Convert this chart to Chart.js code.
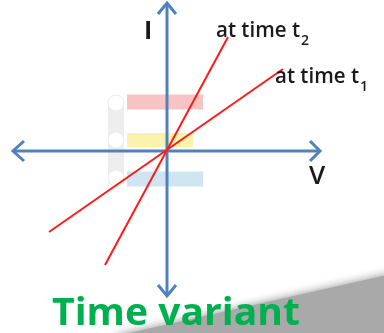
<!DOCTYPE html>
<html>
<head>
<meta charset="utf-8">
<script src="https://cdn.jsdelivr.net/npm/chart.js@4/dist/chart.umd.min.js"></script>
<style>
  html, body { margin: 0; padding: 0; background: #fff; }
  #myChart { display: block; }
</style>
</head>
<body>
<canvas id="myChart" width="384" height="333"></canvas>
<script>
// V-I characteristic, two lines through the origin
var lineT1 = [[-118, -81], [116, 82]];
var lineT2 = [[-62, -114], [61, 114]];
var seriesLabels = ['at time t', 'at time t'];
var subLabels = ['1', '2'];
var axisLabels = ['V', 'I'];
var title = 'Time variant';

// axes with arrow heads
var axisX = [[-154, 0], [153, 0]];
var axisY = [[0, 148], [0, -145]];
var arrowLeft = [[-143, 10], [-154, 0], [-143, -10]];
var arrowRight = [[143, 10], [153, 0], [143, -10]];
var arrowTop = [[-9, 137], [0, 148], [9, 137]];
var arrowBottom = [[-9, -134], [0, -145], [9, -134]];

// faded picture behind the axes
var barPink = [[-40, 49], [36, 49]];
var barYellow = [[-40, 11], [26, 11]];
var barBlue = [[-40, -28], [36, -28]];
var stem = [[-51, 46], [-51, -33]];
var knobs = [[-51, 48], [-51, 11], [-51, -27]];

function pts(arr) {
    return arr.map(function (p) { return { x: p[0], y: p[1] }; });
}

function ds(arr, color, width, order) {
    return {
        data: pts(arr),
        showLine: true,
        borderColor: color,
        borderWidth: width,
        pointRadius: 0,
        fill: false,
        tension: 0,
        borderCapStyle: 'butt',
        borderJoinStyle: 'miter',
        order: order
    };
}

var blue = '#4f81bd';

var textPlugin = {
    id: 'texts',
    beforeDraw: function (chart) {
        var c = chart.ctx;
        c.save();
        c.fillStyle = '#fff';
        c.fillRect(0, 0, chart.width, chart.height);
        c.restore();
    },
    afterDraw: function (chart) {
        var c = chart.ctx;
        var sx = chart.scales.x;
        c.save();
        // grey slide corner
        c.shadowColor = 'rgba(0,0,0,0.45)';
        c.shadowBlur = 10;
        c.fillStyle = '#a9a9a9';
        c.beginPath();
        c.moveTo(116, 336);
        c.lineTo(392, 274);
        c.lineTo(392, 345);
        c.lineTo(116, 345);
        c.closePath();
        c.fill();
        c.shadowBlur = 0;
        c.shadowColor = 'transparent';

        c.fillStyle = '#1a1a1a';
        c.textBaseline = 'alphabetic';
        c.font = '600 21px "Open Sans"';
        var x2 = sx.getPixelForValue(lineT2[1][0]) - 12;
        c.fillText(seriesLabels[1], x2, 37, 84);
        var w = Math.min(84, c.measureText(seriesLabels[1]).width);
        c.font = '600 14px "Open Sans"';
        c.fillText(subLabels[1], x2 + w + 1, 45);

        c.font = '600 21px "Open Sans"';
        var x1 = sx.getPixelForValue(lineT1[1][0]) - 8;
        c.fillText(seriesLabels[0], x1, 83, 84);
        w = Math.min(84, c.measureText(seriesLabels[0]).width);
        c.font = '600 14px "Open Sans"';
        c.fillText(subLabels[0], x1 + w + 1, 91);

        c.font = 'bold 25px "Open Sans"';
        c.fillText(axisLabels[1], 144, 39);
        c.font = '600 26px "Open Sans"';
        c.fillText(axisLabels[0], 309, 184);

        c.fillStyle = '#00b050';
        c.font = 'bold 38px "Open Sans"';
        var tw = c.measureText(title).width;
        c.translate(52, 325);
        c.scale(248 / tw, 1);
        c.fillText(title, 0, 0);
        c.restore();
    }
};

var ctx = document.getElementById('myChart');
new Chart(ctx, {
    type: 'scatter',
    data: {
        datasets: [
            ds(lineT2, '#ff1a1a', 2, 1),
            ds(lineT1, '#ff1a1a', 2, 2),
            ds(axisX, blue, 3, 3),
            ds(axisY, blue, 3, 4),
            ds(arrowLeft, blue, 3, 5),
            ds(arrowRight, blue, 3, 6),
            ds(arrowTop, blue, 3, 7),
            ds(arrowBottom, blue, 3, 8),
            ds(barPink, '#f8c3c3', 15, 10),
            ds(barYellow, '#faf2ad', 14, 11),
            ds(barBlue, '#cfe5f2', 15, 12),
            {
                data: pts(knobs),
                showLine: false,
                pointRadius: 8,
                pointBackgroundColor: '#ffffff',
                pointBorderColor: '#ececec',
                pointBorderWidth: 1,
                order: 13
            },
            ds(stem, '#eeeeee', 16, 14)
        ]
    },
    options: {
        responsive: false,
        animation: false,
        layout: { padding: 0, autoPadding: false },
        plugins: {
            legend: { display: false },
            tooltip: { enabled: false }
        },
        scales: {
            x: { type: 'linear', min: -167, max: 217, display: false },
            y: { type: 'linear', min: -182, max: 151, display: false }
        }
    },
    plugins: [textPlugin]
});
</script>
</body>
</html>
